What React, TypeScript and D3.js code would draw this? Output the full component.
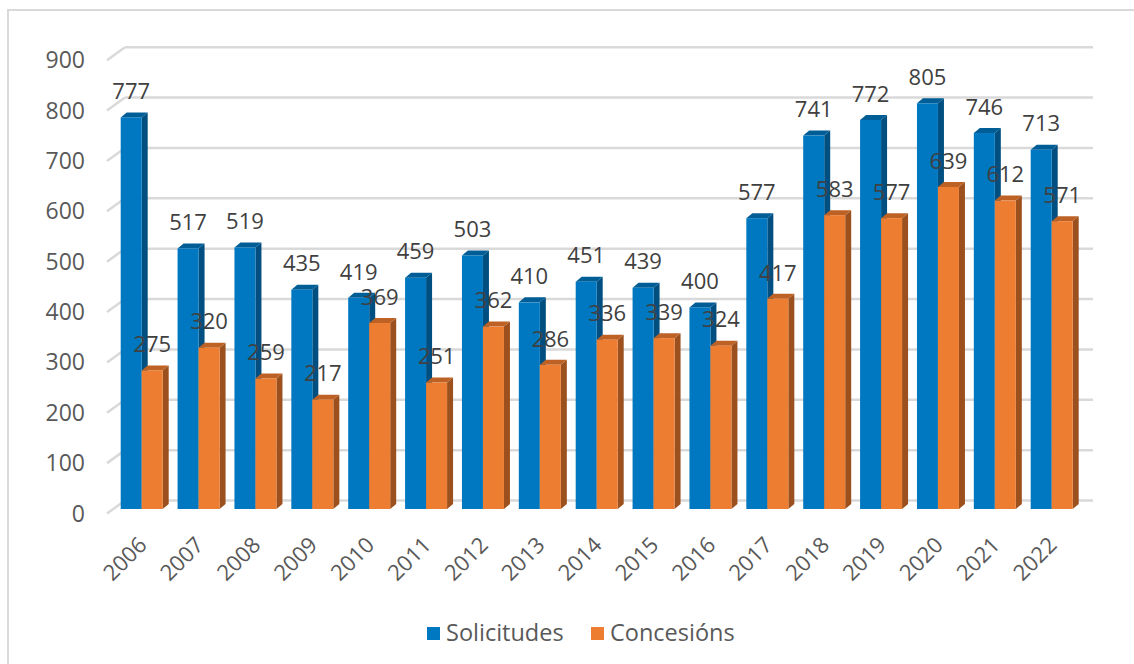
import React from "react";
import * as d3 from "d3";

const years = ["2006","2007","2008","2009","2010","2011","2012","2013","2014","2015","2016","2017","2018","2019","2020","2021","2022"];
const solicitudes = [777, 517, 519, 435, 419, 459, 503, 410, 451, 439, 400, 577, 741, 772, 805, 746, 713];
const concesions = [275, 320, 259, 217, 369, 251, 362, 286, 336, 339, 324, 417, 583, 577, 639, 612, 571];
const seriesNames = ["Solicitudes", "Concesións"];
const yTicks = [0, 100, 200, 300, 400, 500, 600, 700, 800, 900];

const W = 1134, H = 664;
const FONT = "'Open Sans', 'Noto Sans', sans-serif";
const colors = {
  Solicitudes: { front: "#0078c1", side: "#004f80", top: "#005d96" },
  "Concesións": { front: "#ed7d31", side: "#9b501d", top: "#bd6224" },
};
const DX = 6, DY = 5; // bar depth
const WALL_DX = 18, WALL_DY = 13; // floor depth

export default function App() {
  const step = 56.875;
  const pi = 1 - 42 / step;
  const r0 = 120.7 - step * pi / 2;
  const x = d3.scaleBand<string>().domain(years).range([r0, r0 + step * years.length]).paddingInner(pi).paddingOuter(pi / 2);
  const xs = d3.scaleBand<string>().domain(seriesNames).range([0, x.bandwidth()]);
  const yBar = d3.scaleLinear().domain([0, 900]).range([509, 509 - 900 * 0.504]);
  const yBack = d3.scaleLinear().domain([0, 900]).range([500.5, 500.5 - 900 * 0.5037]);
  const backLeft = 125, backRight = 1093;

  const values: Record<string, number[]> = { Solicitudes: solicitudes, "Concesións": concesions };

  const bars: React.ReactNode[] = [];
  const labels: React.ReactNode[] = [];
  years.forEach((yr, i) => {
    seriesNames.forEach((s) => {
      const v = values[s][i];
      const x0 = (x(yr) as number) + (xs(s) as number);
      const w = xs.bandwidth();
      const yt = yBar(v), yb = yBar(0);
      const c = (colors as any)[s];
      bars.push(
        <g key={yr + s}>
          <polygon points={`${x0 + w},${yt} ${x0 + w + DX},${yt - DY} ${x0 + w + DX},${yb - DY} ${x0 + w},${yb}`} fill={c.side} />
          <polygon points={`${x0},${yt} ${x0 + DX},${yt - DY} ${x0 + w + DX},${yt - DY} ${x0 + w},${yt}`} fill={c.top} />
          <rect x={x0} y={yt} width={w} height={yb - yt} fill={c.front} />
        </g>
      );
      labels.push(
        <text key={"l" + yr + s} x={x0 + w / 2} y={yt - 26} dy="0.35em" textAnchor="middle" fontSize={22} fill="#404040" fontFamily={FONT}>{v}</text>
      );
    });
  });

  return (
    <svg width={W} height={H} style={{ position: "absolute", left: 0, top: 0, background: "#fff" }}>
      <rect x={8} y={10} width={1140} height={680} fill="#fff" stroke="#d9d9d9" strokeWidth={2} />
      {yTicks.map((t) => (
        <g key={t}>
          <line x1={backLeft} x2={backRight} y1={yBack(t)} y2={yBack(t)} stroke="#d9d9d9" strokeWidth={2.5} />
          <line x1={backLeft - WALL_DX} x2={backLeft} y1={yBack(t) + WALL_DY} y2={yBack(t)} stroke="#d9d9d9" strokeWidth={2.5} />
          <text x={85} y={yBack(t) + WALL_DY} dy="0.35em" textAnchor="end" fontSize={23} fill="#595959" fontFamily={FONT}>{t}</text>
        </g>
      ))}
      {bars}
      {labels}
      {years.map((yr) => {
        const cx = (x(yr) as number) + x.bandwidth() / 2 + 1;
        return (
          <text key={"x" + yr} transform={`translate(${cx},541) rotate(-45)`} dy="0.35em" textAnchor="end" fontSize={22} fill="#595959" fontFamily={FONT}>{yr}</text>
        );
      })}
      {seriesNames.map((s, i) => {
        const lx = [427, 591][i];
        return (
          <g key={"lg" + s}>
            <rect x={lx} y={627} width={13} height={13} fill={(colors as any)[s].front} />
            <text x={lx + 19} y={641} fontSize={23.5} fill="#595959" fontFamily={FONT}>{s}</text>
          </g>
        );
      })}
    </svg>
  );
}
